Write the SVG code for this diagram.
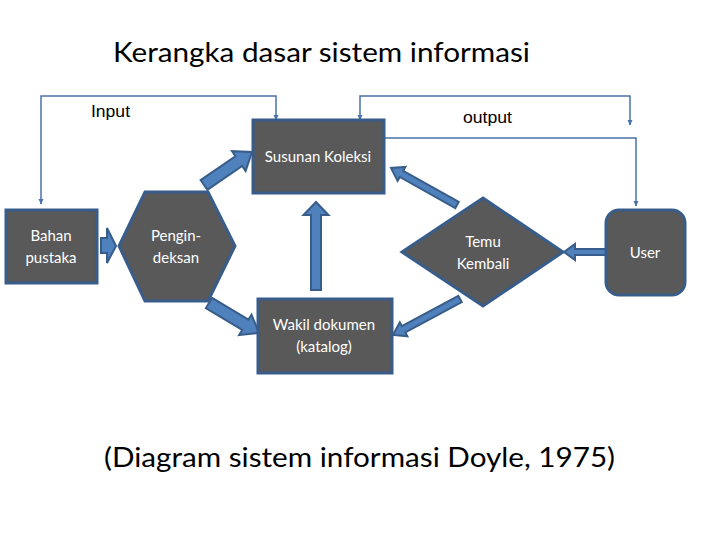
<svg xmlns="http://www.w3.org/2000/svg" width="720" height="540" viewBox="0 0 720 540">
<defs>
<marker id="ah" viewBox="0 0 6 6" refX="5" refY="3" markerWidth="6" markerHeight="6" markerUnits="userSpaceOnUse" orient="auto-start-reverse">
<path d="M0,0.5 L5.5,3 L0,5.5 Z" fill="#4a72a8"/>
</marker>
</defs>
<style>
.node{fill:#595959;stroke:#385d8a;stroke-width:3}
.lbl{fill:#ffffff;font-family:Lato,"Liberation Sans",sans-serif;font-size:15px;text-anchor:middle}
.line{fill:none;stroke:#4a72a8;stroke-width:1.5}
.blk{fill:#4f81bd;stroke:#385d8a;stroke-width:2;stroke-linejoin:miter}
.cap{fill:#000;font-family:"Liberation Sans",Arial,sans-serif}
.big{fill:#000;font-family:Lato,"Open Sans",sans-serif}
</style>
<rect width="720" height="540" fill="#ffffff"/>
<text class="big" x="113" y="62" font-size="26" textLength="417" lengthAdjust="spacingAndGlyphs">Kerangka dasar sistem informasi</text>

<g id="connectors">
<path class="line" d="M276,120 V96 H41 V204" marker-start="url(#ah)" marker-end="url(#ah)"/>
<path class="line" d="M360,120 V96 H630 V125" marker-start="url(#ah)" marker-end="url(#ah)"/>
<path class="line" d="M385,138 H636 V206" marker-end="url(#ah)"/>
<polygon class="blk" points="101,238 107,238 107,228 116,246 107,263 107,253 101,253"/>
<polygon class="blk" points="200.6,180.1 235.4,156.2 232.0,151.2 252,152 245.6,171.0 242.2,166.0 207.4,189.9"/>
<polygon class="blk" points="212.1,297.9 248.4,319.7 251.5,314.6 259,333 239.1,335.1 242.2,329.9 205.9,308.1"/>
<polygon class="blk" points="311,290 311,215 303.5,215 316,202 328.5,215 321,215 321,290"/>
<polygon class="blk" points="458.7,201.9 403.2,170.8 405.4,166.9 391,168 397.6,180.9 399.8,177.0 455.3,208.1"/>
<polygon class="blk" points="458.3,295.9 401.9,326.2 399.8,322.3 393,335 407.4,336.3 405.3,332.4 461.7,302.1"/>
<polygon class="blk" points="606,249 575,249 575,244 564,252 575,260 575,255 606,255"/>
<text class="cap" x="91" y="117" font-size="17" textLength="39" lengthAdjust="spacingAndGlyphs">Input</text>
<text class="cap" x="463" y="123" font-size="17" textLength="49" lengthAdjust="spacingAndGlyphs">output</text>
</g>

<g id="bahan">
<rect class="node" x="6" y="210" width="91" height="73"/>
<text class="lbl" x="51" y="241">Bahan</text>
<text class="lbl" x="51" y="263">pustaka</text>
</g>
<g id="pengindeksan">
<polygon class="node" points="145,192 208,192 235,246 208,301 145,301 119,246"/>
<text class="lbl" x="176" y="241">Pengin-</text>
<text class="lbl" x="176" y="263">deksan</text>
</g>
<g id="susunan">
<rect class="node" x="253" y="120" width="131" height="73"/>
<text class="lbl" x="318" y="162">Susunan Koleksi</text>
</g>
<g id="wakil">
<rect class="node" x="258" y="299" width="134" height="74"/>
<text class="lbl" x="324" y="330">Wakil dokumen</text>
<text class="lbl" x="324" y="352">(katalog)</text>
</g>
<g id="temu">
<polygon class="node" points="483,198 563,252 483,306 402,252"/>
<text class="lbl" x="483" y="247">Temu</text>
<text class="lbl" x="483" y="269">Kembali</text>
</g>
<g id="user">
<rect class="node" x="606" y="210" width="79" height="85" rx="13"/>
<text class="lbl" x="645" y="258">User</text>
</g>

<text class="big" x="104" y="467" font-size="27" textLength="511" lengthAdjust="spacingAndGlyphs">(Diagram sistem informasi Doyle, 1975)</text>
</svg>
